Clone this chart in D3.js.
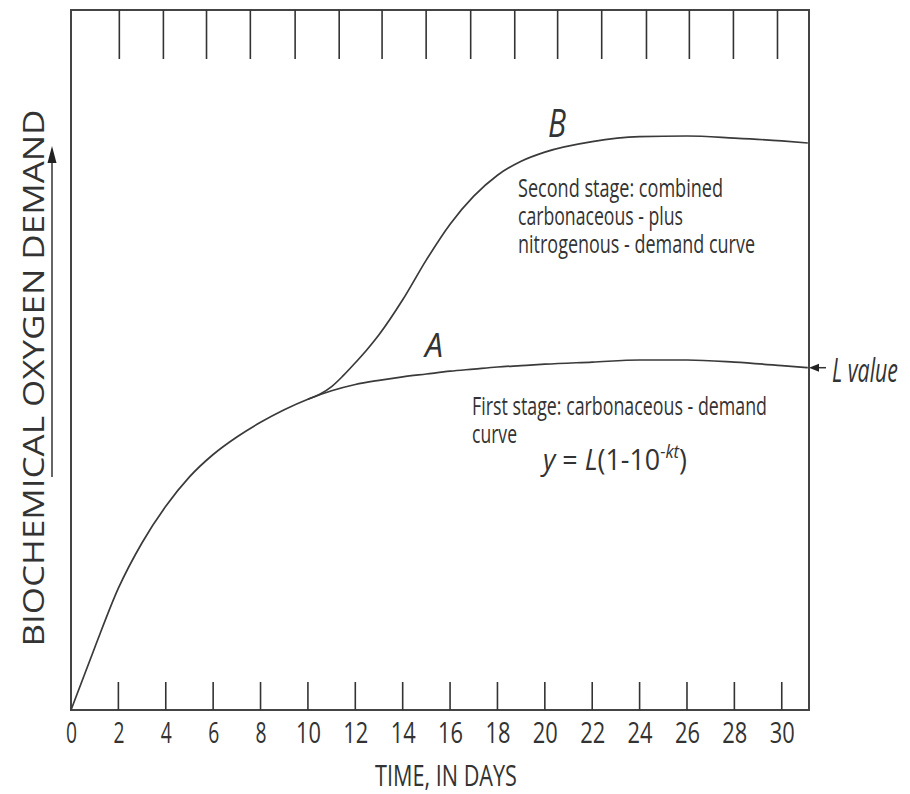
<!DOCTYPE html>
<html>
<head>
<meta charset="utf-8">
<script src="https://cdn.jsdelivr.net/npm/d3@7"></script>
<style>
  body { margin: 0; background: #fff; }
  text { font-family: "Open Sans", "Noto Sans", sans-serif; fill: #333; }
</style>
</head>
<body>
<script>
// values (BOD in arbitrary units, 0..100 = frame height)
const days = [0, 1, 2, 3, 4, 5, 6, 7, 8, 9, 10, 11, 12, 13, 14, 15, 16, 17, 18, 19, 20, 22, 24, 26, 28, 30, 31.1]
const firstStage = [0, 8.9, 17.4, 23.9, 29.1, 33.3, 36.5, 39.0, 41.1, 42.9, 44.4, 45.6, 46.5, 47.1, 47.6, 48.0, 48.4, 48.7, 49.0, 49.2, 49.4, 49.7, 50.0, 50.0, 49.7, 49.2, 48.9]
const daysB = [10, 10.5, 11, 11.5, 12, 12.5, 13, 14, 15, 16, 17, 18, 19, 20, 22, 24, 26, 28, 30, 31.1]
const secondStage = [44.4, 45.1, 46.2, 47.8, 49.6, 51.5, 53.6, 58.6, 64.3, 69.4, 73.4, 76.4, 78.4, 79.7, 81.2, 81.9, 82.0, 81.7, 81.3, 81.0]
const bottomTicks = [2, 4, 6, 8, 10, 12, 14, 16, 18, 20, 22, 24, 26, 28, 30]
const tickLabels = ['0', '2', '4', '6', '8', '10', '12', '14', '16', '18', '20', '22', '24', '26', '28', '30']
const topTicks = [2.04, 3.9, 5.72, 7.57, 9.46, 11.32, 13.13, 14.99, 16.87, 18.73, 20.54, 22.4, 24.29, 26.1, 27.96, 29.82]

const width = 910
const height = 794
const frameL = 71, frameR = 809, frameT = 10, frameB = 710

const svg = d3.select('body')
  .append('svg')
  .attr('width', width)
  .attr('height', height)

const x = d3.scaleLinear().domain([0, 31.15]).range([frameL, frameR])
const y = d3.scaleLinear().domain([0, 100]).range([frameB, frameT])

// frame
svg.append('rect')
  .attr('x', frameL).attr('y', frameT)
  .attr('width', frameR - frameL).attr('height', frameB - frameT)
  .attr('fill', 'none')
  .attr('stroke', '#444')
  .attr('stroke-width', 2)

// bottom ticks + labels
const xAxis = d3.axisBottom(x)
  .tickValues([0].concat(bottomTicks))
  .tickSize(0)
  .tickPadding(0)
  .tickFormat((d, i) => tickLabels[i])

const gx = svg.append('g')
  .attr('transform', `translate(0,${frameB})`)
  .call(xAxis)
gx.select('.domain').remove()
gx.selectAll('text')
  .attr('y', 33)
  .attr('dy', null)
  .attr('fill', '#333')
  .style('font-size', '30px')
  .style('font-family', '"Open Sans", sans-serif')
  .attr('textLength', d => (d < 10 ? 11 : 25))
  .attr('lengthAdjust', 'spacingAndGlyphs')

svg.append('g').selectAll('line')
  .data(bottomTicks)
  .join('line')
  .attr('x1', d => x(d)).attr('x2', d => x(d))
  .attr('y1', frameB).attr('y2', frameB - 28)
  .attr('stroke', '#333')
  .attr('stroke-width', 1.6)

svg.append('g').selectAll('line')
  .data(topTicks)
  .join('line')
  .attr('x1', d => x(d)).attr('x2', d => x(d))
  .attr('y1', frameT).attr('y2', frameT + 49)
  .attr('stroke', '#333')
  .attr('stroke-width', 1.6)

// curves
const line = d3.line()
  .x(d => x(d[0]))
  .y(d => y(d[1]))
  .curve(d3.curveMonotoneX)

svg.append('path')
  .datum(days.map((d, i) => [d, firstStage[i]]))
  .attr('d', line)
  .attr('fill', 'none')
  .attr('stroke', '#3a3a3a')
  .attr('stroke-width', 1.7)

svg.append('path')
  .datum(daysB.map((d, i) => [d, secondStage[i]]))
  .attr('d', line)
  .attr('fill', 'none')
  .attr('stroke', '#3a3a3a')
  .attr('stroke-width', 1.7)

// text helper, squeezed to the widths seen in the picture
function label(tx, ty, str, size, len, opts = {}) {
  const t = svg.append('text')
    .attr('x', tx).attr('y', ty)
    .style('font-size', size + 'px')
    .attr('textLength', len)
    .attr('lengthAdjust', 'spacingAndGlyphs')
    .text(str)
  if (opts.italic) t.style('font-style', 'italic')
  if (opts.anchor) t.attr('text-anchor', opts.anchor)
  if (opts.rotate) t.attr('transform', `rotate(${opts.rotate},${tx},${ty})`)
  return t
}

label(446, 786, 'TIME, IN DAYS', 29, 142, { anchor: 'middle' })
label(44, 378, 'BIOCHEMICAL OXYGEN DEMAND', 30, 537, { anchor: 'middle', rotate: -90 })

// arrow beside the y label
svg.append('line')
  .attr('x1', 52).attr('x2', 52)
  .attr('y1', 477).attr('y2', 160)
  .attr('stroke', '#333').attr('stroke-width', 1.5)
svg.append('path')
  .attr('d', 'M52,146 L47.5,163 L56.5,163 Z')
  .attr('fill', '#222')

label(548, 137, 'B', 38, 18, { italic: true })
label(425, 357, 'A', 33, 18, { italic: true })

label(518, 197, 'Second stage: combined', 25, 205)
label(518, 225, 'carbonaceous - plus', 25, 165)
label(518, 253, 'nitrogenous - demand curve', 25, 237)

label(472, 415, 'First stage: carbonaceous - demand', 25, 295)
label(472, 443, 'curve', 25, 45)

// formula y = L(1-10^-kt)
const fg = svg.append('g')
const ft = fg.append('text')
  .attr('x', 0).attr('y', 0)
  .style('font-size', '29px')
ft.append('tspan').style('font-style', 'italic').text('y')
ft.append('tspan').text(' = ')
ft.append('tspan').style('font-style', 'italic').text('L')
ft.append('tspan').text('(1-10')
ft.append('tspan').style('font-style', 'italic').style('font-size', '18px')
  .attr('dy', -12).text('-kt')
ft.append('tspan').attr('dy', 12).text(')')
const fw = ft.node().getComputedTextLength()
fg.attr('transform', `translate(543,470) scale(${144 / fw},1)`)

// L value marker
svg.append('line')
  .attr('x1', 826).attr('x2', 816)
  .attr('y1', y(48.9)).attr('y2', y(48.9))
  .attr('stroke', '#333').attr('stroke-width', 1.5)
svg.append('path')
  .attr('d', `M809,${y(48.9)} L819,${y(48.9) - 4} L819,${y(48.9) + 4} Z`)
  .attr('fill', '#222')
label(832, 382, 'L value', 32, 66, { italic: true })
</script>
</body>
</html>
